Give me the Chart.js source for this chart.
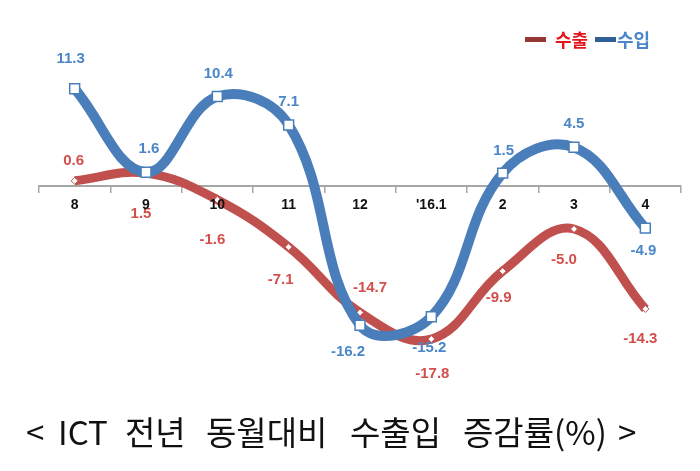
<!DOCTYPE html>
<html>
<head>
<meta charset="utf-8">
<script src="https://cdn.jsdelivr.net/npm/chart.js@4"></script>
<style>
  html, body { margin: 0; padding: 0; background: #fff; }
  #wrap { position: relative; width: 700px; height: 471px; }
</style>
</head>
<body>
<div id="wrap"><canvas id="chart" width="700" height="471"></canvas></div>
<script>
const months  = ['8', '9', '10', '11', '12', "'16.1", '2', '3', '4'];
const exports = [0.6, 1.5, -1.6, -7.1, -14.7, -17.8, -9.9, -5.0, -14.3];
const imports = [11.3, 1.6, 10.4, 7.1, -16.2, -15.2, 1.5, 4.5, -4.9];
const seriesNames = ['수출', '수입'];
const captionWords = ['<', 'ICT', '전년', '동월대비', '수출입', '증감률(%)', '>'];

// label offsets from each point, [dx, dy] in px
const exportLabelShift = [[-1, -20], [-5, 41], [-5, 40], [-8, 33], [10, -25], [1, 35], [-4, 27], [-10, 31], [-5, 30]];
const importLabelShift = [[-4, -30], [3, -23], [1, -23], [0, -23], [-12, 27], [-2, 31], [1, -22], [0, -23], [-2, 23]];
// x where each caption word starts
const captionX = [26, 58, 125, 206, 350, 463, 618];

const RED      = '#c0504d';
const BLUE     = '#4a7ebb';
const RED_TXT  = '#d24f4c';
const BLUE_TXT = '#4a86c8';
const NUM_FONT = 'bold 15px "Liberation Sans", Arial, sans-serif';

const valueLabels = {
  id: 'valueLabels',
  afterDatasetsDraw(chart) {
    const ctx = chart.ctx;
    ctx.save();
    ctx.font = NUM_FONT;
    ctx.textAlign = 'center';
    ctx.textBaseline = 'middle';
    chart.data.datasets.forEach((ds, di) => {
      const meta = chart.getDatasetMeta(di);
      meta.data.forEach((pt, i) => {
        const [dx, dy] = ds.labelShift[i];
        ctx.fillStyle = ds.labelColor;
        ctx.fillText(ds.data[i].toFixed(1), pt.x + dx, pt.y + dy);
      });
    });
    ctx.restore();
  },
};

const legendAndCaption = {
  id: 'legendAndCaption',
  afterDraw(chart) {
    const ctx = chart.ctx;
    ctx.save();
    // legend
    ctx.font = 'bold 18px "Noto Sans CJK KR", sans-serif';
    ctx.textBaseline = 'middle';
    const swatches = ['#953735', '#2f5f96'];
    const textCols = ['#e3161d', BLUE_TXT];
    const starts   = [525, 595];
    seriesNames.forEach((name, i) => {
      ctx.fillStyle = swatches[i];
      ctx.fillRect(starts[i], 37, 21, 5);
      ctx.fillStyle = textCols[i];
      ctx.fillText(name, starts[i] + (i === 0 ? 30 : 22), 40);
    });
    // caption
    ctx.font = '33px "Noto Sans CJK KR", sans-serif';
    ctx.fillStyle = '#111';
    ctx.textAlign = 'left';
    captionWords.forEach((w, i) => ctx.fillText(w, captionX[i], 432));
    ctx.restore();
  },
};

new Chart(document.getElementById('chart'), {
  type: 'line',
  data: {
    labels: months,
    datasets: [
      {
        label:            seriesNames[0],
        data:             exports,
        borderColor:      RED,
        borderWidth:      9,
        tension:          0.4,
        pointStyle:       'rectRot',
        pointRadius:      3.5,
        pointBackgroundColor: '#fff',
        pointBorderColor: RED,
        pointBorderWidth: 1,
        labelColor:       RED_TXT,
        labelShift:       exportLabelShift,
        order:            2,
        clip:             false,
      },
      {
        label:            seriesNames[1],
        data:             imports,
        borderColor:      BLUE,
        borderWidth:      10,
        tension:          0.4,
        pointStyle:       'rect',
        pointRadius:      7,
        pointBackgroundColor: '#fff',
        pointBorderColor: BLUE,
        pointBorderWidth: 1.5,
        labelColor:       BLUE_TXT,
        labelShift:       importLabelShift,
        order:            1,
        clip:             false,
      },
    ],
  },
  options: {
    animation:  false,
    responsive: false,
    layout: { padding: { left: 39, right: 19, top: 48.4, bottom: 95.8 } },
    plugins: {
      legend:  { display: false },
      tooltip: { enabled: false },
    },
    scales: {
      x: {
        position: { y: 0 },
        offset:   true,
        grid: {
          offset:          true,
          drawOnChartArea: false,
          drawTicks:       true,
          tickLength:      6,
          color:           '#a6a6a6',
          lineWidth:       1.5,
        },
        border: { display: true, color: '#a6a6a6', width: 2 },
        ticks: {
          z:       1,
          color:   '#111',
          padding: 5,
          font:    { family: '"Liberation Sans", Arial, sans-serif', size: 14, weight: 'bold' },
        },
      },
      y: {
        display: false,
        min: -22,
        max: 16,
      },
    },
  },
  plugins: [valueLabels, legendAndCaption],
});
</script>
</body>
</html>
